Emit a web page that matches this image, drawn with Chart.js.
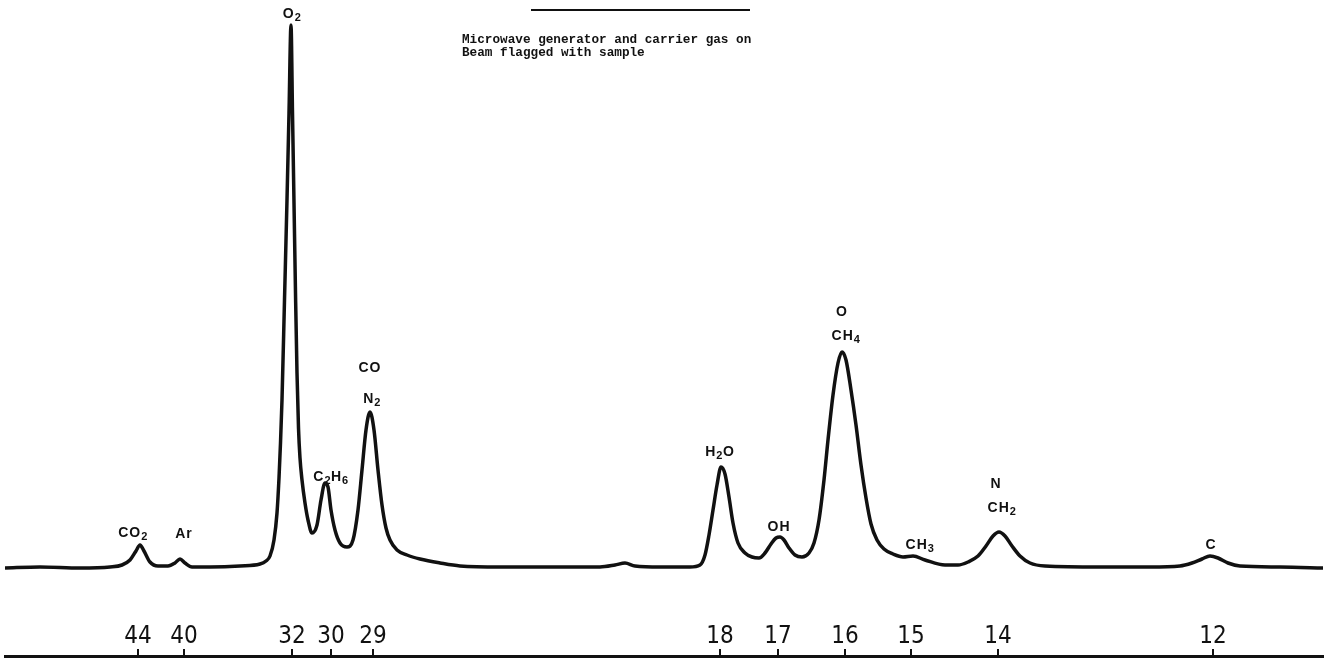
<!DOCTYPE html>
<html><head><meta charset="utf-8">
<script src="https://cdn.jsdelivr.net/npm/chart.js@4.4.0/dist/chart.umd.min.js"></script>
<style>html,body{margin:0;padding:0;background:#fff;} #wrap{width:1329px;height:662px;position:relative;background:#fff;}</style>
</head><body><div id="wrap"><canvas id="c" width="1329" height="662"></canvas></div>
<script>
// Scan position (arbitrary units along the trace) and detector signal (arbitrary units above baseline)
const scanPos = [5,40,80,110,122,130,136,140,144,150,158,168,175,180,185,192,210,240,260,266,270,274,277,279,280.5,282,284.5,287,289,291,292.5,294,295.5,297,298.5,300,302,305,308,312,317,321,325,328,331,335,340,347,353,358,362,366,370,374,378,382,386,390,397,407,420,440,460,500,560,600,615,625,635,660,690,700,705,709,713,717,721,725,729,733,738,745,752,759,765,771,776,780,784,789,795,802,809,814,819,824,828,833,838,842,846,851,856,861,866,871,877,884,893,903,913,925,945,958,968,978,986,993,999,1005,1012,1020,1030,1045,1100,1150,1180,1192,1202,1210,1218,1228,1240,1280,1325];
const signal  = [0,1,0,1,3,8,17,23,17,6,2,2,5,9,5,1,1,2,4,7,12,28,55,90,125,168,268,368,455,543,455,365,275,195,140,110,88,65,48,35,43,68,85,81,58,38,25,21,28,58,98,138,156,138,98,63,40,28,18,13,9,5,2,1,1,1,3,5,2,1,1,3,13,33,58,83,101,94,71,45,25,15,11,10,15,24,30,31,28,20,13,11,15,25,48,88,128,173,205,216,208,178,143,103,70,44,28,19,14,11,12,8,3,3,6,12,22,32,36,32,22,12,5,2,1,1,2,5,9,12,10,5,2,1,0];

// Mass number tick marks along the scan
const tickPos    = [138,184,292,331,373,720,778,845,911,998,1213];
const tickLabels = ['44','40','32','30','29','18','17','16','15','14','12'];

// Peak assignments ("_" marks a subscript digit), anchored in data coordinates
const peakText  = ['O_2','C_2H_6','CO','N_2','CO_2','Ar','H_2O','OH','O','CH_4','CH_3','N','CH_2','C'];
const peakAtPos = [292,331,370,372,133,184,720,779,842,846,920,996,1002,1211];
const peakAtSig = [554,91,200,169,35,34,116,41,256,232,23,84,60,23];

const noteLines = ['Microwave generator and carrier gas on','Beam flagged with sample'];

const INK = '#111';

function drawSubText(ctx, str, cx, cy, big, small) {
  const parts = [];
  for (let i = 0; i < str.length; i++) {
    if (str[i] === '_') { parts.push({t: str[i+1], sub: true}); i++; }
    else parts.push({t: str[i], sub: false});
  }
  let w = 0;
  parts.forEach(p => { ctx.font = p.sub ? small : big; p.w = ctx.measureText(p.t).width + (p.sub ? 0.5 : 1); w += p.w; });
  let x = cx - w / 2;
  ctx.textBaseline = 'middle';
  ctx.textAlign = 'left';
  parts.forEach(p => {
    ctx.font = p.sub ? small : big;
    ctx.fillText(p.t, x, p.sub ? cy + 4 : cy);
    x += p.w;
  });
}

const annot = {
  id: 'annot',
  afterDraw(chart) {
    const ctx = chart.ctx, xs = chart.scales.x, ys = chart.scales.y;
    ctx.save();
    ctx.fillStyle = INK;
    // mass-number labels, drawn just above the axis at each tick of the x scale
    ctx.font = '24px "Liberation Sans Narrow", "DejaVu Sans Condensed", sans-serif';
    ctx.textAlign = 'center';
    ctx.textBaseline = 'middle';
    xs.ticks.forEach(t => {
      ctx.fillText(t.label, xs.getPixelForValue(t.value), xs.top - 19);
    });
    // peak labels
    peakText.forEach((t, i) => {
      drawSubText(ctx, t, xs.getPixelForValue(peakAtPos[i]), ys.getPixelForValue(peakAtSig[i]),
        'bold 14px "Liberation Sans", Arial, sans-serif', 'bold 11px "Liberation Sans", Arial, sans-serif');
    });
    // typed note
    ctx.font = 'bold 12.7px "Liberation Mono", "DejaVu Sans Mono", monospace';
    ctx.textAlign = 'left';
    ctx.textBaseline = 'alphabetic';
    ctx.fillText(noteLines[0], 462, 43);
    ctx.fillText(noteLines[1], 462, 56);
    // underline of the (cut-off) heading
    ctx.strokeStyle = INK;
    ctx.lineWidth = 2;
    ctx.beginPath(); ctx.moveTo(531, 10); ctx.lineTo(750, 10); ctx.stroke();
    ctx.restore();
  }
};

new Chart(document.getElementById('c'), {
  type: 'line',
  data: {
    datasets: [{
      data: scanPos.map((x, i) => ({x, y: signal[i]})),
      borderColor: INK, borderWidth: 3.5, pointRadius: 0,
      cubicInterpolationMode: 'monotone', fill: false
    }]
  },
  options: {
    responsive: false, animation: false, devicePixelRatio: 1,
    layout: {padding: {left: 5, right: 6, top: 0, bottom: 0}},
    plugins: {legend: {display: false}, tooltip: {enabled: false}},
    scales: {
      x: {
        type: 'linear', min: 5, max: 1323,
        afterBuildTicks: s => { s.ticks = tickPos.map(v => ({value: v})); },
        afterFit: s => { s.height = 6; },
        ticks: {
          display: false, autoSkip: false, maxRotation: 0, color: INK,
          callback: v => tickLabels[tickPos.indexOf(v)]
        },
        grid: {display: true, drawOnChartArea: false, drawTicks: true, tickLength: -7, color: INK, lineWidth: 2},
        border: {display: true, color: INK, width: 3}
      },
      y: {display: false, min: -88, max: 568}
    }
  },
  plugins: [annot]
});
</script></body></html>
